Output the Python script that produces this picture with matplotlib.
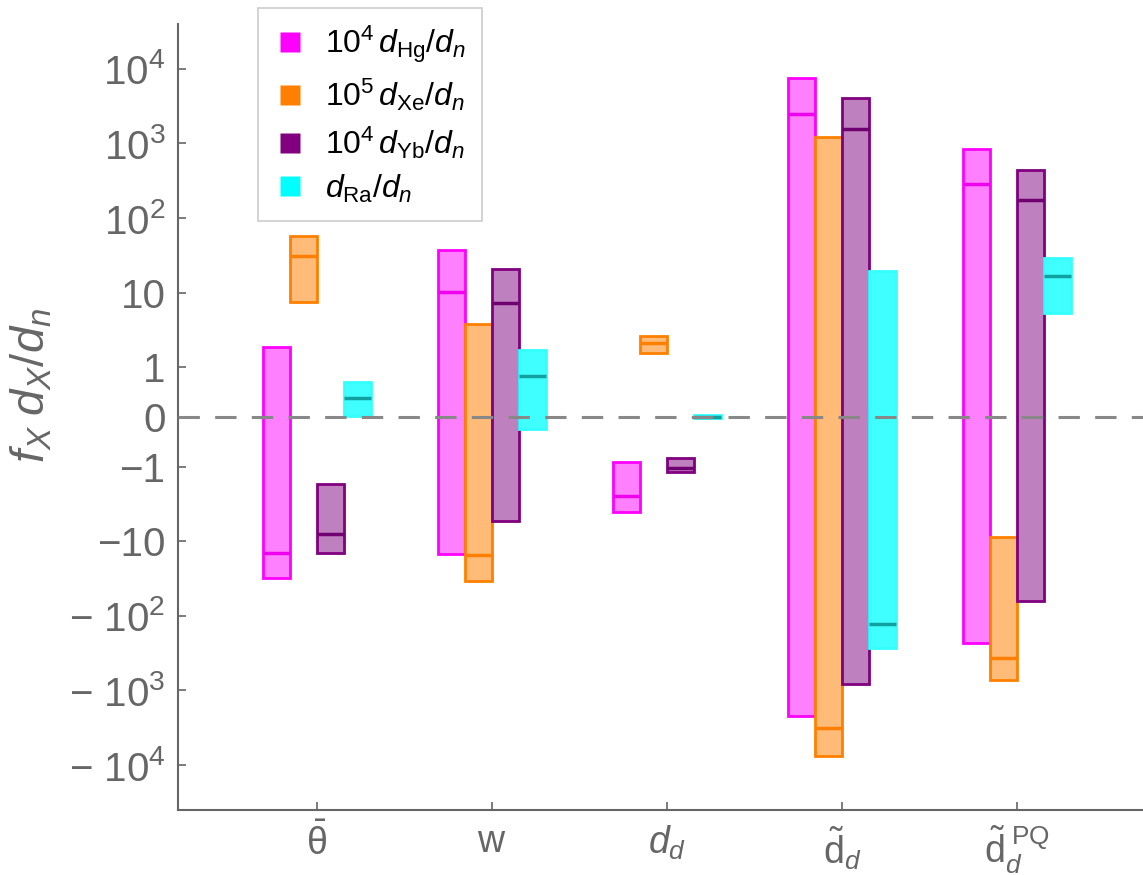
import numpy as np
import matplotlib
matplotlib.use("Agg")
import matplotlib.pyplot as plt
from matplotlib.lines import Line2D

plt.rcParams['font.family'] = ['Liberation Sans', 'DejaVu Sans']
plt.rcParams['mathtext.fontset'] = 'custom'
plt.rcParams['mathtext.rm'] = 'Liberation Sans'
plt.rcParams['mathtext.it'] = 'Liberation Sans:italic'
plt.rcParams['mathtext.bf'] = 'Liberation Sans:bold'

# ---------------- data ----------------
categories = [r'$\bar{\mathrm{θ}}$', r'$\mathrm{w}$', r'$d_d$',
              r'$\tilde{\mathrm{d}}_d$', r'$\tilde{\mathrm{d}}_d^{\;\mathrm{PQ}}$']

hg_lo = [-31, -14.7, -4.0, -2200, -231]
hg_med = [-14.3, 10.2, -2.5, 2490, 286]
hg_hi = [1.86, 37, -0.9, 7570, 844]

xe_lo = [7.5, -34, 1.54, -7570, -723]
xe_med = [31, -15.2, 2.1, -3190, -366]
xe_hi = [57, 3.8, 2.6, 1220, -8.7]

yb_lo = [-14.3, -5.3, -1.17, -818, -63]
yb_med = [-7.9, 7.2, -1.03, 1570, 175]
yb_hi = [-1.69, 20.7, -0.82, 4080, 441]

ra_lo = [0.02, -0.24, -0.03, -269, 5.3]
ra_med = [0.38, 0.82, 0.0, -128, 16.7]
ra_hi = [0.70, 1.69, 0.03, 19.4, 29]

labels = [r'$10^4\,d_{\mathrm{Hg}}/d_n$', r'$10^5\,d_{\mathrm{Xe}}/d_n$',
          r'$10^4\,d_{\mathrm{Yb}}/d_n$', r'$d_{\mathrm{Ra}}/d_n$']

ytick_vals = [1e4, 1e3, 1e2, 10, 1, 0, -1, -10, -1e2, -1e3, -1e4]
ytick_labels = [r'$10^4$', r'$10^3$', r'$10^2$', '10', '1', '0', '−1', '−10',
                r'− $10^2$', r'− $10^3$', r'− $10^4$']

# ---------------- styles ----------------
edge_cols = ['#ff00ff', '#ff8000', '#800080', '#33ffff']
fill_cols = ['#ff80ff', '#ffbb77', '#bf80bf', '#40ffff']
med_cols = ['#ee00ee', '#ff8000', '#700070', '#10a0a0']
gray = '#666666'

series = [(hg_lo, hg_med, hg_hi), (xe_lo, xe_med, xe_hi),
          (yb_lo, yb_med, yb_hi), (ra_lo, ra_med, ra_hi)]

fig = plt.figure(figsize=(11.43, 8.75), dpi=100)
ax = fig.add_axes([0.1557, 0.0743, 0.8443, 0.8983])
ax.set_yscale('symlog', linthresh=1, linscale=0.6)

x = np.arange(1, len(categories) + 1)
bw = 0.155
for i, (lo, med, hi) in enumerate(series):
    lo = np.array(lo)
    hi = np.array(hi)
    xs = x + (i - 1.5) * bw
    ax.bar(xs, hi - lo, bottom=lo, width=bw, color=fill_cols[i],
           edgecolor=edge_cols[i], linewidth=2, zorder=2)
    ax.hlines(med, xs - bw / 2, xs + bw / 2, colors=med_cols[i],
              linewidth=2.5, zorder=3)

ax.axhline(0, color='#888888', linewidth=2.2, dashes=(7, 5), zorder=4)

ax.set_xlim(0.206, 5.72)
ax.set_ylim(-4.0e4, 4.0e4)

ax.set_yticks(ytick_vals)
ax.set_yticklabels(ytick_labels)
ax.yaxis.set_minor_locator(matplotlib.ticker.NullLocator())
ax.set_xticks(x)
ax.set_xticklabels(categories)

ax.tick_params(axis='both', direction='in', length=6, width=1.2,
               colors=gray, labelsize=29)
ax.tick_params(axis='x', pad=10, labelsize=27)
ax.tick_params(axis='y', pad=9)

for s in ['top', 'right']:
    ax.spines[s].set_visible(False)
for s in ['left', 'bottom']:
    ax.spines[s].set_color(gray)
    ax.spines[s].set_linewidth(1.5)

ax.set_ylabel(r'$f_X\;d_X/d_n$', fontsize=34, color=gray)
ax.yaxis.set_label_coords(-0.128, 0.54)

handles = [Line2D([], [], linestyle='none', marker='s', markersize=15,
                  markerfacecolor=edge_cols[i] if i != 3 else '#00ffff',
                  markeredgecolor='none') for i in range(4)]
leg = ax.legend(handles, labels, loc='upper left',
                bbox_to_anchor=(0.226, 0.991), bbox_transform=fig.transFigure,
                borderaxespad=0,
                fontsize=23, frameon=True, fancybox=False, framealpha=1,
                edgecolor='#cccccc', labelspacing=0.36, handletextpad=0.6,
                borderpad=0.5, handlelength=1.0)
leg.get_frame().set_linewidth(1.2)
leg.set_zorder(10)

fig.savefig('out.png', dpi=100)
